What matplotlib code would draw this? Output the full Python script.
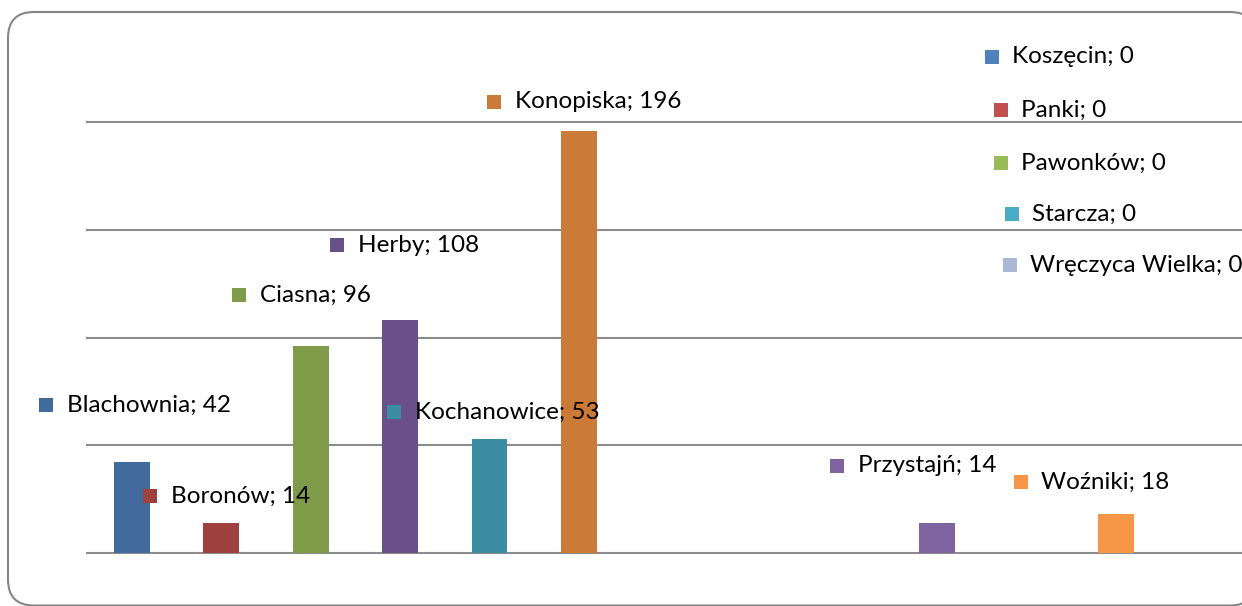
import matplotlib.pyplot as plt
from matplotlib.patches import FancyBboxPatch
from matplotlib.transforms import IdentityTransform

plt.rcParams['font.family'] = ['Lato', 'DejaVu Sans']

gminy = ['Blachownia', 'Boronów', 'Ciasna', 'Herby', 'Kochanowice', 'Konopiska',
         'Koszęcin', 'Panki', 'Pawonków', 'Przystajń', 'Starcza', 'Woźniki',
         'Wręczyca Wielka']
wartosci = [42, 14, 96, 108, 53, 196, 0, 0, 0, 14, 0, 18, 0]
kolory = ['#416A9D', '#9E403E', '#7F9A48', '#6A5088', '#3C8DA3', '#CC7A37',
          '#4F81BD', '#C0504D', '#9BBB59', '#8064A2', '#4BACC6', '#F79646',
          '#AAB9D7']

# polozenie etykiet (srodek kwadracika) w jednostkach danych, recznie przesuniete jak w Excelu
etykiety_x = [-0.958, 0.204, 1.198, 2.293, 2.930, 4.047,
              9.612, 9.712, 9.712, 7.880, 9.835, 9.936, 9.813]
etykiety_y = [68.7, 26.5, 119.7, 142.9, 65.4, 209.3,
              230.2, 205.6, 181.0, 40.4, 157.3, 32.9, 133.6]

W, H = 1242, 606
fig = plt.figure(figsize=(W / 100, H / 100), dpi=100)

# ramka wykresu z zaokraglonymi rogami w pikselach (prawa i dolna strona uciete jak w oryginale)
# wypelniona na bialo, bo agg przycina niewypelnione sciezki do krawedzi obrazka
ramka = FancyBboxPatch((8, 0.5), 1256 - 8, 594 - 0.5,
                       boxstyle='round,pad=0,rounding_size=26',
                       transform=IdentityTransform(), facecolor='white',
                       edgecolor='#868686', linewidth=1.5, clip_on=False,
                       zorder=-1)
fig.patches.append(ramka)

ax = fig.add_axes([87 / W, (H - 553) / H, (1250 - 87) / W, (553 - 122) / H])
ax.set_xlim(-0.5, len(gminy) - 0.5)
ax.set_ylim(0, 200)

for y in range(0, 201, 50):
    ax.axhline(y, color='#8C8C8C', lw=1.5, zorder=0, clip_on=False)

ax.bar(range(len(gminy)), wartosci, width=0.4, color=kolory, zorder=2)

for nazwa, v, kol, lx, ly in zip(gminy, wartosci, kolory, etykiety_x, etykiety_y):
    ax.scatter([lx], [ly], marker='s', s=110, color=kol, clip_on=False, zorder=3,
               linewidths=0)
    ax.annotate(f'{nazwa}; {v}', (lx, ly), xytext=(15, 0), textcoords='offset points',
                va='center', ha='left', fontsize=17.5, color='#000000',
                annotation_clip=False, zorder=4)

ax.set_xticks([])
ax.set_yticks([])
for s in ax.spines.values():
    s.set_visible(False)
ax.patch.set_alpha(0)

fig.savefig('out.png', dpi=100)
